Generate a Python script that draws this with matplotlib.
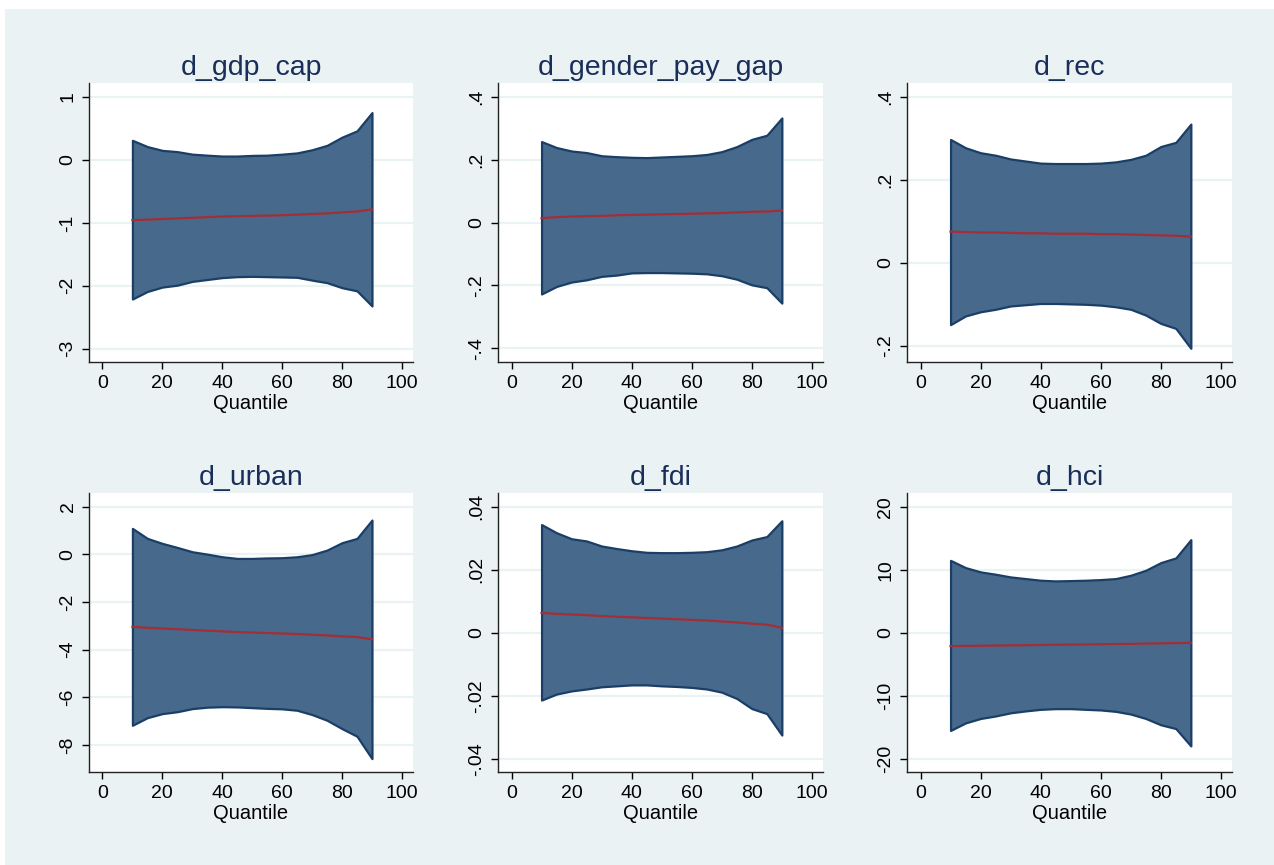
#!/usr/bin/env python3
"""
Quantile regression coefficients with confidence bands, six regressors.
"""
import matplotlib as mpl
import matplotlib.pyplot as plt
from matplotlib.patches import Rectangle

mpl.rcParams.update({
    "font.family": ["Liberation Sans", "DejaVu Sans"],
    "figure.dpi": 100,
})

# Quantiles estimated
quantiles = [10, 15, 20, 25, 30, 35, 40, 45, 50, 55, 60, 65, 70, 75, 80, 85, 90]

# d_gdp_cap
gdp_upper = [0.31, 0.21, 0.15, 0.13, 0.09, 0.074, 0.06, 0.06, 0.07, 0.074, 0.09, 0.11, 0.16, 0.23, 0.36, 0.46, 0.75]
gdp_lower = [-2.21, -2.09, -2.02, -1.99, -1.93, -1.90, -1.87, -1.855, -1.85, -1.855, -1.86, -1.865, -1.91, -1.95, -2.03, -2.08, -2.32]
gdp_coef = [-0.957, -0.95, -0.94, -0.93, -0.92, -0.91, -0.90, -0.895, -0.89, -0.885, -0.88, -0.87, -0.86, -0.85, -0.835, -0.82, -0.788]

# d_gender_pay_gap
gpg_upper = [0.257, 0.238, 0.227, 0.222, 0.212, 0.209, 0.207, 0.206, 0.208, 0.210, 0.212, 0.216, 0.225, 0.241, 0.264, 0.277, 0.332]
gpg_lower = [-0.227, -0.203, -0.189, -0.182, -0.171, -0.167, -0.160, -0.159, -0.159, -0.160, -0.161, -0.163, -0.169, -0.180, -0.198, -0.207, -0.256]
gpg_coef = [0.014, 0.017, 0.019, 0.020, 0.021, 0.023, 0.024, 0.025, 0.026, 0.027, 0.028, 0.029, 0.030, 0.032, 0.034, 0.035, 0.038]

# d_rec
rec_upper = [0.297, 0.277, 0.265, 0.259, 0.250, 0.245, 0.240, 0.239, 0.239, 0.239, 0.240, 0.243, 0.249, 0.259, 0.280, 0.290, 0.334]
rec_lower = [-0.149, -0.128, -0.118, -0.112, -0.104, -0.101, -0.098, -0.098, -0.099, -0.100, -0.102, -0.106, -0.112, -0.126, -0.146, -0.158, -0.206]
rec_coef = [0.075, 0.074, 0.073, 0.073, 0.072, 0.071, 0.071, 0.070, 0.070, 0.070, 0.069, 0.069, 0.068, 0.067, 0.066, 0.065, 0.063]

# d_urban
urb_upper = [1.09, 0.67, 0.46, 0.29, 0.11, 0.01, -0.10, -0.17, -0.17, -0.15, -0.14, -0.10, -0.01, 0.18, 0.49, 0.67, 1.44]
urb_lower = [-7.17, -6.85, -6.68, -6.60, -6.47, -6.41, -6.39, -6.40, -6.43, -6.46, -6.48, -6.54, -6.72, -6.96, -7.31, -7.63, -8.57]
urb_coef = [-3.04, -3.08, -3.11, -3.14, -3.17, -3.20, -3.23, -3.26, -3.28, -3.30, -3.32, -3.34, -3.37, -3.40, -3.44, -3.47, -3.56]

# d_fdi
fdi_upper = [0.0343, 0.0317, 0.0298, 0.0291, 0.0275, 0.0267, 0.0260, 0.0255, 0.0254, 0.0254, 0.0255, 0.0257, 0.0263, 0.0275, 0.0294, 0.0305, 0.0355]
fdi_lower = [-0.0213, -0.0194, -0.0184, -0.0178, -0.0171, -0.0168, -0.0165, -0.0165, -0.0168, -0.0170, -0.0173, -0.0178, -0.0188, -0.0208, -0.0240, -0.0256, -0.0324]
fdi_coef = [0.0063, 0.0060, 0.0058, 0.0056, 0.0053, 0.0051, 0.0049, 0.0047, 0.0045, 0.0043, 0.0041, 0.0039, 0.0036, 0.0033, 0.0029, 0.0026, 0.0016]

# d_hci
hci_upper = [11.5, 10.35, 9.67, 9.30, 8.87, 8.61, 8.35, 8.24, 8.29, 8.35, 8.45, 8.61, 9.14, 9.93, 11.15, 11.89, 14.79]
hci_lower = [-15.5, -14.3, -13.6, -13.2, -12.7, -12.4, -12.15, -12.04, -12.04, -12.15, -12.25, -12.47, -12.9, -13.6, -14.6, -15.2, -17.96]
hci_coef = [-2.11, -2.08, -2.05, -2.02, -1.99, -1.96, -1.93, -1.90, -1.87, -1.84, -1.81, -1.78, -1.75, -1.71, -1.67, -1.63, -1.58]

titles = ["d_gdp_cap", "d_gender_pay_gap", "d_rec", "d_urban", "d_fdi", "d_hci"]
uppers = [gdp_upper, gpg_upper, rec_upper, urb_upper, fdi_upper, hci_upper]
lowers = [gdp_lower, gpg_lower, rec_lower, urb_lower, fdi_lower, hci_lower]
coefs = [gdp_coef, gpg_coef, rec_coef, urb_coef, fdi_coef, hci_coef]

y_ticks = [
    [-3, -2, -1, 0, 1],
    [-0.4, -0.2, 0, 0.2, 0.4],
    [-0.2, 0, 0.2, 0.4],
    [-8, -6, -4, -2, 0, 2],
    [-0.04, -0.02, 0, 0.02, 0.04],
    [-20, -10, 0, 10, 20],
]
y_ticklabels = [
    ["-3", "-2", "-1", "0", "1"],
    ["-.4", "-.2", "0", ".2", ".4"],
    ["-.2", "0", ".2", ".4"],
    ["-8", "-6", "-4", "-2", "0", "2"],
    ["-.04", "-.02", "0", ".02", ".04"],
    ["-20", "-10", "0", "10", "20"],
]
y_lims = [(-3.21, 1.22), (-0.443, 0.443), (-0.239, 0.433),
          (-9.13, 2.575), (-0.0441, 0.0443), (-22.1, 22.2)]
x_ticks = [0, 20, 40, 60, 80, 100]

BG = "#EAF2F3"
NAVY = "#1A2E5A"

W, H = 1274, 865
fig = plt.figure(figsize=(W / 100, H / 100), facecolor="white")
fig.patches.append(Rectangle((5 / W, 0), 1, 1 - 9 / H, transform=fig.transFigure,
                             facecolor=BG, edgecolor="none", zorder=-10))

lefts = [89, 498, 907]
rights = [413, 823, 1232]
tops = [83, 493]
bottoms = [362, 772]

for k in range(6):
    r, c = divmod(k, 3)
    l, rr, t, b = lefts[c], rights[c], tops[r], bottoms[r]
    ax = fig.add_axes([l / W, 1 - b / H, (rr - l) / W, (b - t) / H])
    ax.set_facecolor("white")

    ax.fill_between(quantiles, lowers[k], uppers[k], facecolor="#476A8C",
                    edgecolor="#1A3E66", linewidth=1.6, zorder=2)
    ax.plot(quantiles, coefs[k], color="#A32E36", linewidth=1.6, zorder=3)

    ax.set_xlim(-4.5, 103.7)
    ax.set_ylim(*y_lims[k])
    ax.set_xticks(x_ticks)
    ax.set_yticks(y_ticks[k])
    ax.set_yticklabels(y_ticklabels[k], rotation=90, va="center")
    ax.tick_params(axis="both", direction="out", length=5, width=1,
                   labelsize=14, colors="black", pad=4)
    ax.yaxis.grid(True, color=BG, linewidth=1.6, zorder=0)
    ax.set_axisbelow(True)
    for side in ["top", "right"]:
        ax.spines[side].set_visible(False)
    for side in ["left", "bottom"]:
        ax.spines[side].set_linewidth(1.0)
        ax.spines[side].set_color("#222222")

    ax.set_xlabel("Quantile", fontsize=14.5, labelpad=2)
    ax.set_title(titles[k], fontsize=20.5, color=NAVY, pad=6)

fig.savefig("out.png", dpi=100, facecolor=fig.get_facecolor())
